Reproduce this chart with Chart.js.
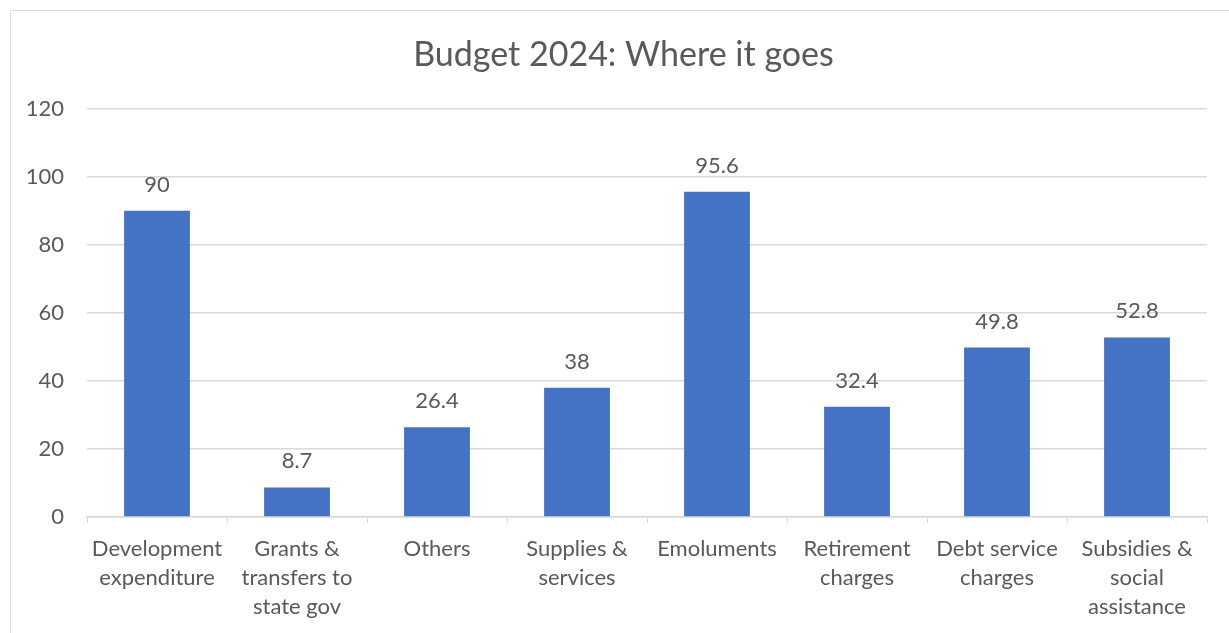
<!DOCTYPE html>
<html>
<head>
<meta charset="utf-8">
<script src="https://cdn.jsdelivr.net/npm/chart.js@4.4.1/dist/chart.umd.min.js"></script>
<style>
  body { margin: 0; background: #fff; overflow: hidden; }
  #frame { position: absolute; left: 10px; top: 10px; width: 1240px; height: 660px; border: 1.5px solid #d9d9d9; }
  #wrap { position: absolute; left: 0; top: 0; width: 1229px; height: 633px; }
</style>
</head>
<body>
<div id="frame"></div>
<div id="wrap"><canvas id="budgetChart" width="1229" height="633"></canvas></div>
<script>
const categories = [
    ['Development', 'expenditure'],
    ['Grants &', 'transfers to', 'state gov'],
    'Others',
    ['Supplies &', 'services'],
    'Emoluments',
    ['Retirement', 'charges'],
    ['Debt service', 'charges'],
    ['Subsidies &', 'social', 'assistance']
];
const amounts = [90, 8.7, 26.4, 38, 95.6, 32.4, 49.8, 52.8];
const yTicks = [0, 20, 40, 60, 80, 100, 120];

const textColor = '#595959';
const gridColor = '#d9d9d9';
const fontFamily = 'Lato, "Open Sans", sans-serif';

// draws the value above each bar
const barValues = {
    id: 'barValues',
    afterLayout(chart) {
        // the original frame is wider than the picture, so its title sits a bit right of centre
        chart.titleBlock.left = 40;
    },
    afterDatasetsDraw(chart) {
        const ctx = chart.ctx;
        const meta = chart.getDatasetMeta(0);
        ctx.save();
        ctx.fillStyle = textColor;
        ctx.font = '22px ' + fontFamily;
        ctx.textAlign = 'center';
        ctx.textBaseline = 'middle';
        meta.data.forEach((bar, i) => {
            ctx.fillText(String(amounts[i]), bar.x, bar.y - 26);
        });
        ctx.restore();
    }
};

const ctx = document.getElementById('budgetChart').getContext('2d');
const budgetChart = new Chart(ctx, {
    type: 'bar',
    data: {
        labels: categories,
        datasets: [{
            label: 'Budget 2024',
            data: amounts,
            backgroundColor: '#4472c4',
            borderWidth: 0,
            barPercentage: 0.94,
            categoryPercentage: 0.5
        }]
    },
    options: {
        responsive: false,
        animation: false,
        layout: { padding: { left: 0, right: 22, top: 0, bottom: 0 } },
        plugins: {
            legend: { display: false },
            tooltip: { enabled: false },
            title: {
                display: true,
                text: 'Budget 2024: Where it goes',
                color: textColor,
                font: { family: fontFamily, size: 34, weight: 'normal' },
                padding: { top: 35, bottom: 33 }
            }
        },
        scales: {
            x: {
                grid: {
                    display: true,
                    drawOnChartArea: false,
                    drawTicks: true,
                    tickLength: 6,
                    color: gridColor,
                    offset: true
                },
                border: { display: true, color: gridColor, width: 1.5 },
                ticks: {
                    color: textColor,
                    font: { family: fontFamily, size: 22, lineHeight: 1.32 },
                    padding: 11,
                    maxRotation: 0,
                    autoSkip: false
                },
                afterFit(scale) { scale.height = 116; }
            },
            y: {
                min: 0,
                max: 120,
                afterBuildTicks(scale) { scale.ticks = yTicks.map(v => ({ value: v })); },
                grid: { color: gridColor, lineWidth: 1.5, drawTicks: false },
                border: { display: false },
                ticks: {
                    color: textColor,
                    font: { family: fontFamily, size: 22 },
                    padding: 23
                },
                afterFit(scale) { scale.width = 87; }
            }
        }
    },
    plugins: [barValues]
});
</script>
</body>
</html>
